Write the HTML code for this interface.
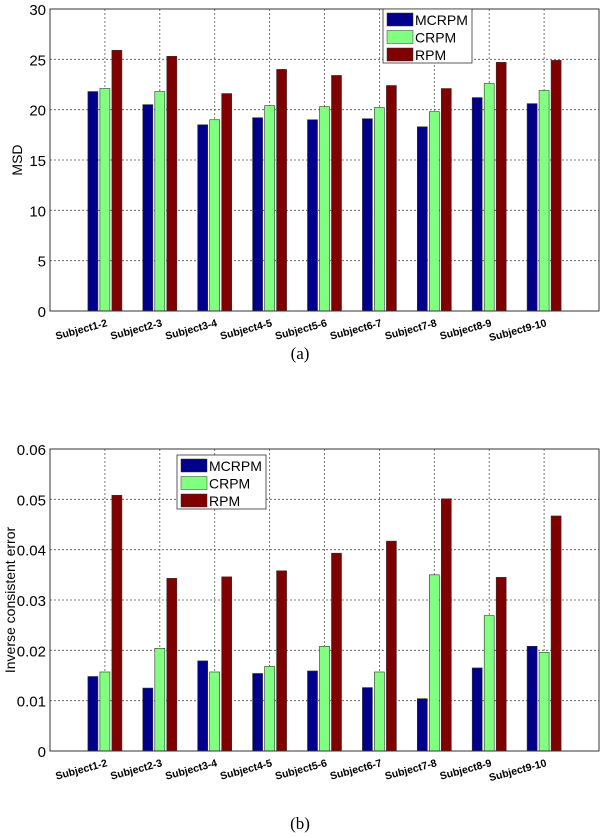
<!DOCTYPE html>
<html><head><meta charset="utf-8"><style>
body{margin:0;background:#fff;}
svg{display:block;font-family:"Liberation Sans",Arial,sans-serif;}
</style></head><body>
<svg id="root" width="600" height="838" viewBox="0 0 600 838"></svg>
<script>
const categories=["Subject1-2","Subject2-3","Subject3-4","Subject4-5","Subject5-6","Subject6-7","Subject7-8","Subject8-9","Subject9-10"];
const seriesNames=["MCRPM","CRPM","RPM"];
const seriesColors=["#00008b","#80ff80","#800000"];
const msdMCRPM=[21.8,20.5,18.5,19.2,19.0,19.1,18.3,21.2,20.6];
const msdCRPM=[22.1,21.8,19.0,20.4,20.3,20.2,19.8,22.6,21.9];
const msdRPM=[25.9,25.3,21.6,24.0,23.4,22.4,22.1,24.7,24.9];
const iceMCRPM=[0.0148,0.0125,0.0179,0.0154,0.0159,0.0126,0.0104,0.0165,0.0208];
const iceCRPM=[0.0157,0.0204,0.0157,0.0168,0.0208,0.0157,0.0350,0.0269,0.0196];
const iceRPM=[0.0508,0.0343,0.0346,0.0358,0.0393,0.0417,0.0501,0.0345,0.0467];
const msdTicks=[0,5,10,15,20,25,30];
const iceTicks=[0,0.01,0.02,0.03,0.04,0.05,0.06];
const iceTickLabels=["0","0.01","0.02","0.03","0.04","0.05","0.06"];

const NS="http://www.w3.org/2000/svg";
const root=document.getElementById('root');
function mk(tag,attrs,parent,text){const e=document.createElementNS(NS,tag);for(const k in attrs)e.setAttribute(k,attrs[k]);if(text!==undefined)e.textContent=text;parent.appendChild(e);return e;}

function chart(cfg){
  const g=mk('g',{},root);
  
  
  const L=50,R=599,T=cfg.top,B=cfg.bottom;
  const xs=i=>L+(R-L)*(i+1)/10;
  const ys=v=>B-(B-T)*(v-cfg.min)/(cfg.max-cfg.min);
  cfg.ticks.forEach((t,i)=>{
    const y=ys(t);
    if(i>0&&i<cfg.ticks.length-1){const gl=mk('line',{x1:L,x2:R,y1:y,y2:y,stroke:'#555','stroke-width':0.8,'stroke-dasharray':'2,2'},g);
      }
    const tl=mk('text',{x:L-4,y:y+6,'text-anchor':'end','font-size':15,fill:'#000'},g,cfg.tickLabels[i]);
    
  });
  categories.forEach((c,i)=>{
    const x=xs(i);
    const gl=mk('line',{x1:x,x2:x,y1:T,y2:B,stroke:'#555','stroke-width':0.8,'stroke-dasharray':'2,2'},g);
    
  });
  cfg.series.forEach((arr,s)=>{
    arr.forEach((v,i)=>{
      const cx=xs(i)+(s-1)*12;
      const b=mk('rect',{x:cx-5,y:ys(v),width:10,height:B-ys(v),fill:seriesColors[s],stroke:'#333','stroke-width':0.6},g);
      
      
    });
  });
  const box=mk('rect',{x:L,y:T,width:R-L,height:B-T,fill:'none',stroke:'#333','stroke-width':1},g);
  
  categories.forEach((c,i)=>{
    const x=xs(i)+3,y=B+15;
    const t=mk('text',{x:x,y:y,'text-anchor':'end','font-size':10.5,'font-weight':'bold',transform:`rotate(-15 ${x} ${y})`},g,c);
    
  });
  const yl=mk('text',{x:0,y:0,'text-anchor':'middle','font-size':14,transform:`translate(${cfg.ylx} ${(T+B)/2}) rotate(-90)`},g,cfg.ylabel);
  
  const lg=mk('g',{},g);
  
  mk('rect',{x:cfg.lx,y:cfg.ly,width:89,height:54,fill:'#fff',stroke:'#333','stroke-width':0.8},lg);
  seriesNames.forEach((n,s)=>{
    const e=mk('g',{},lg);
    
    mk('rect',{x:cfg.lx+4,y:cfg.ly+4+s*17.5,width:26,height:13,fill:seriesColors[s],stroke:'#333','stroke-width':0.5},e);
    mk('text',{x:cfg.lx+32,y:cfg.ly+16+s*17.5,'font-size':14},e,n);
  });
  const cap=mk('text',{x:300,y:cfg.capY,'text-anchor':'middle','font-size':17,'font-family':'"Liberation Serif",serif'},g,cfg.caption);
  
}
chart({name:'msd-chart',top:9,bottom:311,min:0,max:30,ticks:msdTicks,tickLabels:msdTicks.map(String),series:[msdMCRPM,msdCRPM,msdRPM],ylabel:'MSD',ylx:22,lx:383,ly:9,caption:'(a)',capY:359});
chart({name:'ice-chart',top:449,bottom:751,min:0,max:0.06,ticks:iceTicks,tickLabels:iceTickLabels,series:[iceMCRPM,iceCRPM,iceRPM],ylabel:'Inverse consistent error',ylx:15,lx:177,ly:455,caption:'(b)',capY:829});
</script>
</body></html>
